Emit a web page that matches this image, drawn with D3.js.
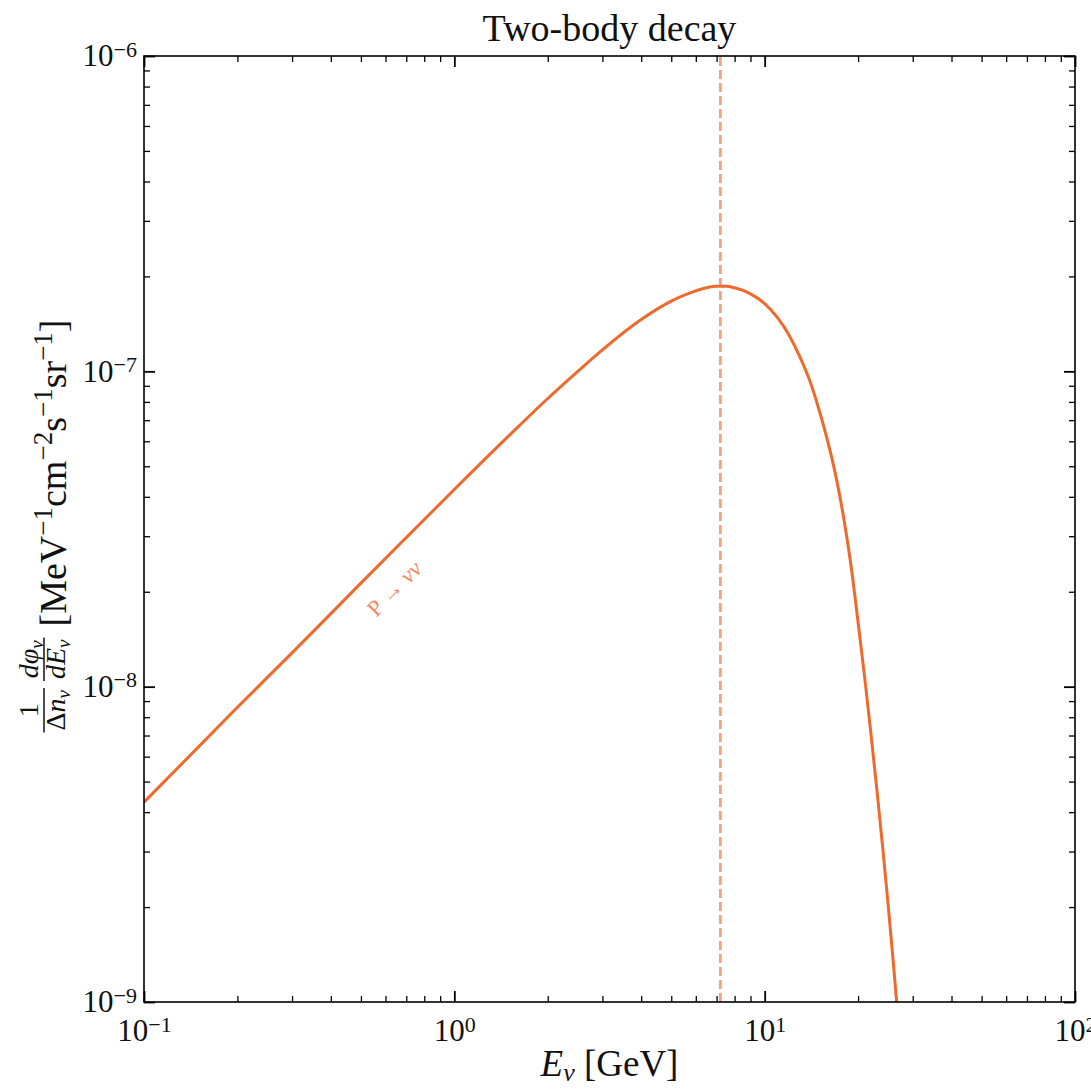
<!DOCTYPE html>
<html>
<head>
<meta charset="utf-8">
<script src="https://cdn.jsdelivr.net/npm/d3@7"></script>
<style>
  body { margin: 0; background: #fff; }
</style>
</head>
<body>
<div id="chart"></div>
<script>
// values
var energy = [0.1, 0.2, 0.3, 0.5, 0.7, 1, 1.5, 2, 2.5, 3, 4, 5, 6, 7, 7.5, 8, 9, 10, 11, 12, 13, 14,
              15, 16, 17, 18, 19, 20, 21, 22, 23, 24, 25, 26, 27, 28];
var flux = [4.3e-9, 8.6e-9, 1.28e-8, 2.13e-8, 2.97e-8, 4.22e-8, 6.25e-8, 8.2e-8, 1.0e-7, 1.17e-7,
            1.46e-7, 1.67e-7, 1.80e-7, 1.86e-7, 1.86e-7, 1.84e-7, 1.76e-7, 1.64e-7, 1.48e-7, 1.30e-7,
            1.11e-7, 9.3e-8, 7.5e-8, 5.95e-8, 4.6e-8, 3.4e-8, 2.4e-8, 1.6e-8, 1.07e-8, 7.1e-9,
            4.7e-9, 3.1e-9, 2.03e-9, 1.32e-9, 8.5e-10, 5.4e-10];
var peakEnergy = 7.2;

var xDecades = [0.1, 1, 10, 100];
var xExponents = ["\u22121", "0", "1", "2"];
var yDecades = [1e-9, 1e-8, 1e-7, 1e-6];
var yExponents = ["\u22129", "\u22128", "\u22127", "\u22126"];

var titleText = "Two-body decay";
var lineColor = "#ee6a2c";

var width = 1091, height = 1089;
var margin = { top: 56, right: 16, bottom: 87, left: 144 };
var plotW = width - margin.left - margin.right,
    plotH = height - margin.top - margin.bottom;

var svg = d3.select("#chart").append("svg")
    .attr("width", width)
    .attr("height", height)
    .style("font-family", "'Liberation Serif', 'DejaVu Serif', serif");

var x = d3.scaleLog().domain([0.1, 100]).range([margin.left, margin.left + plotW]);
var y = d3.scaleLog().domain([1e-9, 1e-6]).range([margin.top + plotH, margin.top]);

// minor tick positions 2..9 inside each decade
function minors(decades) {
    var out = [];
    decades.slice(0, -1).forEach(function(d) {
        for (var k = 2; k < 10; k++) out.push(d * k);
    });
    return out;
}
var xMinor = minors(xDecades), yMinor = minors(yDecades);

svg.append("defs").append("clipPath").attr("id", "plotclip")
    .append("rect")
    .attr("x", margin.left).attr("y", margin.top)
    .attr("width", plotW).attr("height", plotH);

var plot = svg.append("g").attr("clip-path", "url(#plotclip)");

// dashed line at the peak energy
plot.append("line")
    .attr("x1", x(peakEnergy)).attr("x2", x(peakEnergy))
    .attr("y1", y.range()[0]).attr("y2", y.range()[1])
    .attr("stroke", lineColor)
    .attr("stroke-opacity", 0.62)
    .attr("stroke-width", 2.8)
    .attr("stroke-dasharray", "9,4");

var pts = energy.map(function(e, i) { return [e, flux[i]]; });
plot.append("path")
    .datum(pts)
    .attr("fill", "none")
    .attr("stroke", lineColor)
    .attr("stroke-width", 3)
    .attr("d", d3.line()
        .x(function(d) { return x(d[0]); })
        .y(function(d) { return y(d[1]); })
        .curve(d3.curveMonotoneX));

// label along the rising branch
var ang = Math.atan2(y(flux[5]) - y(flux[0]), x(energy[5]) - x(energy[0])) * 180 / Math.PI;
var lab = svg.append("text")
    .attr("transform", "translate(" + x(0.64) + "," + y(2.05e-8) + ") rotate(" + ang + ")")
    .attr("text-anchor", "middle")
    .attr("dy", "0.35em")
    .attr("font-size", 23)
    .attr("fill", "#f08c5e");
lab.append("tspan").text("P \u2192 ");
lab.append("tspan").attr("font-style", "italic").text("\u03bd\u03bd");

// axes with inward ticks on all four sides
function addAxis(axisFn, scale, values, len, transform, sw) {
    var g = svg.append("g")
        .attr("transform", transform)
        .call(axisFn(scale).tickValues(values).tickSizeInner(-len).tickSizeOuter(0)
            .tickFormat(function() { return ""; }));
    g.select(".domain").remove();
    g.attr("font-family", null).attr("font-size", null);
    g.selectAll(".tick line").attr("stroke", "#000").attr("stroke-width", sw);
    return g;
}

var bottomY = margin.top + plotH, rightX = margin.left + plotW;
var xb = addAxis(d3.axisBottom, x, xDecades, 11, "translate(0," + bottomY + ")", 1.8);
addAxis(d3.axisBottom, x, xMinor, 6, "translate(0," + bottomY + ")", 1.3);
addAxis(d3.axisTop, x, xDecades, 11, "translate(0," + margin.top + ")", 1.8);
addAxis(d3.axisTop, x, xMinor, 6, "translate(0," + margin.top + ")", 1.3);
var yl = addAxis(d3.axisLeft, y, yDecades, 11, "translate(" + margin.left + ",0)", 1.8);
addAxis(d3.axisLeft, y, yMinor, 6, "translate(" + margin.left + ",0)", 1.3);
addAxis(d3.axisRight, y, yDecades, 11, "translate(" + rightX + ",0)", 1.8);
addAxis(d3.axisRight, y, yMinor, 6, "translate(" + rightX + ",0)", 1.3);

function powerLabels(g, exps) {
    g.selectAll(".tick text").each(function(d, i) {
        var t = d3.select(this).text(null)
            .attr("font-size", 31).attr("fill", "#111");
        t.append("tspan").text("10");
        t.append("tspan").attr("dy", "-0.45em").attr("font-size", 22).text(exps[i]);
    });
}
powerLabels(xb, xExponents);
xb.selectAll(".tick text").attr("y", 10).attr("dy", "0.95em");
powerLabels(yl, yExponents);
yl.selectAll(".tick text").attr("x", -7).attr("dy", "0.32em");

// frame
svg.append("rect")
    .attr("x", margin.left).attr("y", margin.top)
    .attr("width", plotW).attr("height", plotH)
    .attr("fill", "none").attr("stroke", "#000").attr("stroke-width", 1.6);

// title
svg.append("text")
    .attr("x", margin.left + plotW / 2).attr("y", 41)
    .attr("text-anchor", "middle")
    .attr("font-size", 38)
    .attr("fill", "#111")
    .text(titleText);

// x label
var xt = svg.append("text")
    .attr("x", margin.left + plotW / 2).attr("y", 1076)
    .attr("text-anchor", "middle")
    .attr("font-size", 37)
    .attr("fill", "#111");
xt.append("tspan").attr("font-style", "italic").text("E");
xt.append("tspan").attr("font-style", "italic").attr("font-size", 26).attr("dy", 5).text("\u03bd");
xt.append("tspan").attr("dy", -5).text(" [GeV]");

// y label: two fractions followed by the units
var yg = svg.append("g").attr("transform", "translate(66," + (margin.top + plotH / 2 - 3) + ") rotate(-90)")
    .attr("fill", "#111");
var inner = yg.append("g");
var cursor = 0;

function fraction(numParts, denParts) {
    var g = inner.append("g");
    var num = g.append("text").attr("font-size", 28).attr("text-anchor", "middle");
    var den = g.append("text").attr("font-size", 28).attr("text-anchor", "middle");
    numParts.forEach(function(p) { addPart(num, p); });
    denParts.forEach(function(p) { addPart(den, p); });
    var w = Math.max(num.node().getComputedTextLength(), den.node().getComputedTextLength()) + 4;
    num.attr("x", cursor + w / 2).attr("y", -28);
    den.attr("x", cursor + w / 2).attr("y", -1);
    g.append("line")
        .attr("x1", cursor).attr("x2", cursor + w)
        .attr("y1", -22).attr("y2", -22)
        .attr("stroke", "#111").attr("stroke-width", 1.5);
    cursor += w + 7;
}

function addPart(t, p) {
    var s = t.append("tspan").text(p.s);
    if (p.it) s.attr("font-style", "italic");
    if (p.sub) s.attr("font-size", 19).attr("dy", 5);
}

fraction([{ s: "1" }], [{ s: "\u0394" }, { s: "n", it: true }, { s: "\u03bd", it: true, sub: true }]);
fraction([{ s: "d\u03c6", it: true }, { s: "\u03bd", it: true, sub: true }],
         [{ s: "dE", it: true }, { s: "\u03bd", it: true, sub: true }]);

var units = inner.append("text").attr("x", cursor + 4).attr("font-size", 38);
[["[MeV", "\u22121"], ["cm", "\u22122"], ["s", "\u22121"], ["sr", "\u22121"]].forEach(function(u, i) {
    units.append("tspan").attr("dy", i === 0 ? 0 : 14).text(u[0]);
    units.append("tspan").attr("dy", -14).attr("font-size", 27).text(u[1]);
});
units.append("tspan").attr("dy", 14).text("]");
var total = cursor + 4 + units.node().getComputedTextLength();
inner.attr("transform", "translate(" + (-total / 2) + ",0)");
</script>
</body>
</html>
